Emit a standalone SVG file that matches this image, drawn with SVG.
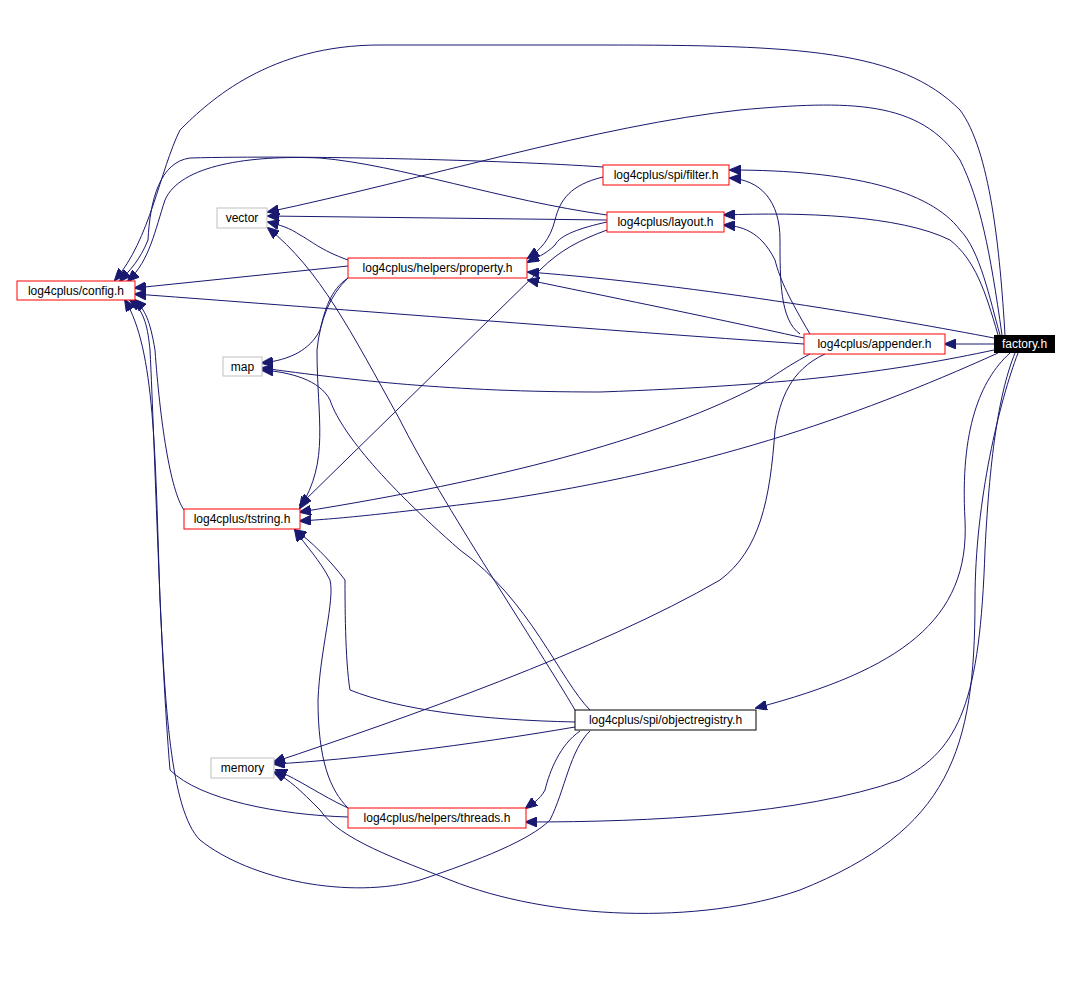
<svg xmlns="http://www.w3.org/2000/svg" width="1070" height="989" viewBox="0 0 1070 989">
<style>
.n rect{fill:#fff;stroke-width:1}
.r rect{stroke:#ff0000}
.g rect{stroke:#bfbfbf}
.k rect{stroke:#000}
text{font-family:"Liberation Sans",Arial,sans-serif;font-size:12px;text-anchor:middle;fill:#000}
#edges path{fill:none;stroke:#191970;stroke-width:1;marker-end:url(#a)}
</style>
<defs><marker id="a" markerWidth="12" markerHeight="10" refX="11" refY="5" orient="auto" markerUnits="userSpaceOnUse"><path d="M0,0 L12,5 L0,10 z" fill="#191970" stroke="#191970"/></marker></defs>
<rect width="1070" height="989" fill="#fff"/>
<g id="edges">
<path d="M994,344 L945,344"/>
<path d="M1000,335 C990,300 980,250 960,230 C930,190 850,170 730,170"/>
<path d="M998,335 C985,290 975,260 950,240 C900,215 800,212 724,215"/>
<path d="M994,338 C900,320 700,285 528,272"/>
<path d="M1005,335 C1000,250 990,150 960,110 C900,50 800,45 600,45 L380,45 C270,45 210,100 180,130 C160,170 150,240 115,280"/>
<path d="M1002,335 C990,250 980,200 960,160 C920,100 850,100 740,110 C600,125 420,180 268,212"/>
<path d="M994,350 C900,370 800,385 600,392 C450,392 350,380 262,368"/>
<path d="M998,353 C850,420 700,470 500,500 C400,512 350,518 300,521"/>
<path d="M1010,353 C980,380 960,430 965,520 C970,620 900,670 756,708"/>
<path d="M1015,353 C1000,390 990,450 985,550 C980,700 960,750 900,780 C800,815 650,822 526,822"/>
<path d="M1018,353 C1000,400 975,500 975,600 C975,750 950,830 800,890 C700,925 550,920 450,880 C400,860 340,840 320,810 C300,790 290,780 274,772"/>
<path d="M810,334 C790,300 780,280 775,260 C760,230 740,226 724,225"/>
<path d="M800,334 C780,320 780,280 780,240 C780,200 760,180 730,178"/>
<path d="M804,338 C700,315 600,295 528,280"/>
<path d="M804,344 C600,330 350,310 135,294"/>
<path d="M810,354 C780,370 770,380 750,390 C650,440 500,480 300,512"/>
<path d="M825,354 C790,370 780,400 775,430 C770,500 760,550 720,580 C600,650 400,720 274,762"/>
<path d="M603,167 C500,160 300,155 190,158 C160,162 150,200 148,240 C140,260 130,270 120,281"/>
<path d="M603,177 C570,185 560,200 555,220 C550,240 540,250 528,258"/>
<path d="M607,220 L268,216"/>
<path d="M607,215 C500,200 400,165 320,158 C250,155 180,165 165,200 C155,230 150,260 128,281"/>
<path d="M607,222 C580,228 560,235 555,245 C545,255 535,258 528,262"/>
<path d="M607,230 C580,240 560,250 540,270 L300,505"/>
<path d="M348,266 L135,288"/>
<path d="M348,260 C320,250 310,240 300,235 C290,228 280,225 268,222"/>
<path d="M348,278 C330,290 325,310 320,330 C310,350 290,360 262,363"/>
<path d="M348,278 C330,295 320,320 317,350 C317,420 330,460 300,508"/>
<path d="M184,510 C170,490 160,420 155,350 C150,320 145,310 135,300"/>
<path d="M575,710 C540,650 440,500 400,420 C350,330 320,270 268,228"/>
<path d="M590,710 C560,680 530,600 460,550 C380,480 340,430 330,400 C320,380 290,372 262,370"/>
<path d="M575,722 C480,720 400,710 350,690 C345,660 345,600 345,580 C330,560 310,540 295,530"/>
<path d="M575,727 C470,745 350,760 274,764"/>
<path d="M580,731 C560,745 550,770 545,790 C540,800 530,805 526,808"/>
<path d="M590,731 C570,750 565,790 550,820 C530,840 480,860 420,880 C350,900 250,880 200,840 C170,810 165,700 160,600 C155,450 155,350 125,300"/>
<path d="M348,808 C320,795 300,780 276,770"/>
<path d="M348,817 C280,815 200,800 170,770 C160,650 155,450 150,350 C148,330 145,310 130,300"/>
<path d="M348,808 C330,790 318,760 318,700 C320,650 335,600 330,580 C320,560 305,545 295,530"/>
</g>
<g id="factory"><rect x="994" y="335" width="61" height="18" fill="#000"/><text x="1024.5" y="348" fill="#fff" style="fill:#fff">factory.h</text></g>
<g id="config" class="n r"><rect x="17" y="281" width="118" height="19"/><text x="76" y="295">log4cplus/config.h</text></g>
<g id="vector" class="n g"><rect x="217" y="208" width="50" height="20"/><text x="242" y="222">vector</text></g>
<g id="property" class="n r"><rect x="348" y="258" width="179" height="20"/><text x="437.5" y="272">log4cplus/helpers/property.h</text></g>
<g id="map" class="n g"><rect x="223" y="357" width="39" height="19"/><text x="242.5" y="371">map</text></g>
<g id="tstring" class="n r"><rect x="184" y="509" width="116" height="20"/><text x="242" y="523">log4cplus/tstring.h</text></g>
<g id="filter" class="n r"><rect x="603" y="165" width="126" height="20"/><text x="666" y="179">log4cplus/spi/filter.h</text></g>
<g id="layout" class="n r"><rect x="607" y="212" width="117" height="20"/><text x="665.5" y="226">log4cplus/layout.h</text></g>
<g id="appender" class="n r"><rect x="804" y="334" width="141" height="20"/><text x="874.5" y="348">log4cplus/appender.h</text></g>
<g id="objectregistry" class="n k"><rect x="575" y="710" width="181" height="20"/><text x="665.5" y="724">log4cplus/spi/objectregistry.h</text></g>
<g id="memory" class="n g"><rect x="211" y="758" width="63" height="20"/><text x="242.5" y="772">memory</text></g>
<g id="threads" class="n r"><rect x="348" y="808" width="178" height="20"/><text x="437" y="822">log4cplus/helpers/threads.h</text></g>
</svg>
